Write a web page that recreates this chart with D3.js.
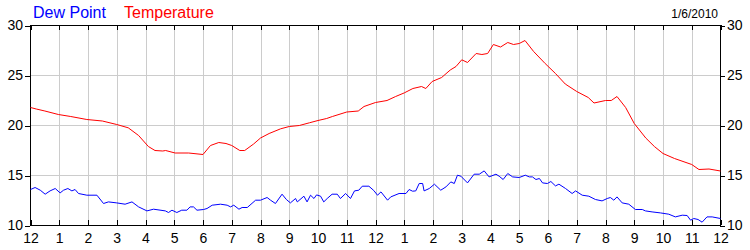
<!DOCTYPE html>
<html><head><meta charset="utf-8">
<script src="https://cdn.jsdelivr.net/npm/d3@7"></script>
<style>
html,body{margin:0;padding:0;background:#fff;}
svg{display:block;}
text{font-family:Arial,"Liberation Sans",sans-serif;}
</style></head>
<body>
<svg id="chart" width="750" height="250"></svg>
<script>
// ---- data (hours since midnight, degrees) ----
const tempHours = [0,0.2,0.5,0.97,1.4,1.96,2.5,3.0,3.4,3.76,4.1,4.33,4.6,4.7,5.03,5.5,6.0,6.26,6.55,6.8,7.0,7.28,7.45,7.76,8.0,8.3,8.7,9.0,9.35,9.7,10.0,10.3,10.5,11.0,11.4,11.6,12.0,12.4,12.7,13.0,13.3,13.6,13.75,13.97,14.3,14.6,14.8,15.0,15.2,15.5,15.7,15.9,16.1,16.35,16.6,16.8,17.0,17.2,17.5,17.9,18.26,18.6,19.0,19.4,19.6,20.0,20.2,20.4,20.7,21.0,21.4,21.7,22.0,22.4,23.0,23.25,23.6,24];
const tempValues = [21.8,21.65,21.45,21.1,20.9,20.6,20.45,20.1,19.77,19.0,17.9,17.5,17.45,17.5,17.25,17.25,17.1,18.0,18.3,18.2,18.0,17.5,17.5,18.15,18.75,19.2,19.67,19.9,20.0,20.27,20.5,20.7,20.9,21.35,21.45,21.9,22.3,22.5,22.9,23.26,23.7,23.9,23.7,24.4,24.8,25.55,25.9,26.57,26.3,27.2,27.1,27.2,28.1,27.85,28.3,28.1,28.2,28.5,27.4,26.2,25.2,24.15,23.4,22.8,22.25,22.5,22.5,22.9,21.8,20.2,18.75,17.9,17.2,16.7,16.1,15.6,15.65,15.45];

const dewHours = [0,0.16,0.34,0.51,0.68,0.86,1.03,1.15,1.3,1.44,1.55,1.67,1.96,2.31,2.54,2.71,3.0,3.29,3.53,3.76,4.05,4.28,4.69,4.8,4.92,5.09,5.26,5.44,5.55,5.67,5.79,6.02,6.14,6.32,6.61,6.84,6.96,7.07,7.25,7.36,7.54,7.83,8.0,8.23,8.35,8.52,8.75,8.9,9.04,9.22,9.28,9.51,9.62,9.74,9.86,9.95,10.09,10.2,10.32,10.49,10.67,10.78,10.96,11.13,11.27,11.42,11.54,11.77,11.94,12.07,12.19,12.42,12.53,12.82,13.06,13.17,13.29,13.4,13.52,13.64,13.69,13.87,14.05,14.27,14.45,14.62,14.74,14.85,14.97,15.2,15.43,15.61,15.78,15.95,16.19,16.3,16.44,16.6,16.77,17.0,17.21,17.35,17.46,17.58,17.7,17.81,17.98,18.1,18.26,18.38,18.61,18.84,18.96,19.19,19.42,19.65,19.88,20.06,20.17,20.29,20.4,20.58,20.81,21.04,21.28,21.39,21.62,21.91,22.2,22.43,22.67,22.84,22.96,23.07,23.22,23.36,23.53,23.71,24.0];
const dewValues = [13.6,13.8,13.53,13.13,13.46,13.7,13.26,13.53,13.7,13.46,13.6,13.2,13.03,13.03,12.2,12.36,12.26,12.13,12.36,11.86,11.46,11.63,11.46,11.3,11.53,11.3,11.53,11.53,11.86,11.86,11.53,11.6,11.7,12.03,12.13,12.03,11.86,12.03,11.63,11.8,11.8,12.53,12.53,12.8,12.53,12.2,13.13,12.6,12.26,12.7,12.36,12.93,12.36,13.03,12.7,13.06,12.93,12.36,12.7,13.13,13.13,12.7,13.2,12.7,13.46,13.53,13.93,13.93,13.5,13.03,13.36,12.53,12.86,13.2,13.2,13.6,13.43,13.46,14.2,14.2,13.46,13.7,14.13,13.53,13.86,14.36,14.2,15.03,14.93,14.26,15.13,15.13,15.46,14.86,15.13,14.93,14.6,15.2,14.86,14.8,15.03,14.86,14.86,14.6,14.7,14.26,14.2,14.4,13.96,14.13,13.7,13.2,13.46,13.03,12.93,12.6,12.46,12.7,12.8,12.53,12.86,12.26,12.13,11.6,11.6,11.46,11.36,11.26,11.13,10.86,11.03,11.0,10.53,10.7,10.6,10.33,10.86,10.86,10.7];

const hourTicks = d3.range(0,25);
const hourLabels = ["12","1","2","3","4","5","6","7","8","9","10","11","12","1","2","3","4","5","6","7","8","9","10","11","12"];
const yTicks = [10,15,20,25,30];
const legendLabels = ["Dew Point","Temperature"];
const dateLabel = "1/6/2010";

// ---- layout ----
const L = 30, R = 720, T = 25, B = 225;
const svg = d3.select("#chart");
const x = d3.scaleLinear().domain([0,24]).range([L+0.5, R+0.5]);
const y = d3.scaleLinear().domain([10,30]).range([B+0.5, T+0.5]);

// grid
const grid = svg.append("g").attr("stroke","#cccccc").attr("stroke-width",1).attr("shape-rendering","crispEdges");
grid.selectAll("line.v").data(hourTicks.slice(1,-1)).enter().append("line")
  .attr("x1",d=>Math.round(x(d))+0.5).attr("x2",d=>Math.round(x(d))+0.5)
  .attr("y1",T).attr("y2",B);
grid.selectAll("line.h").data([15,20,25]).enter().append("line")
  .attr("x1",L).attr("x2",R).attr("y1",d=>y(d)).attr("y2",d=>y(d));

// axes
function styleAxis(g){
  g.select(".domain").remove();
  g.selectAll("line").attr("stroke","#000").attr("shape-rendering","crispEdges");
  g.selectAll("text").attr("font-size","14px").attr("fill","#000").attr("font-family","Arial, 'Liberation Sans', sans-serif");
}
svg.append("g").attr("transform",`translate(${L},0)`)
  .call(d3.axisLeft(y).tickValues(yTicks).tickSize(5).tickPadding(2)).call(styleAxis);
svg.append("g").attr("transform",`translate(${R},0)`)
  .call(d3.axisRight(y).tickValues(yTicks).tickSize(5).tickPadding(2)).call(styleAxis);
const xr = d3.scaleLinear().domain([0,24]).range([L, R]);
svg.append("g").attr("transform",`translate(0,${B})`)
  .call(d3.axisBottom(x).tickValues(hourTicks).tickSize(-5).tickPadding(8).tickFormat((d,i)=>hourLabels[i])).call(styleAxis);
svg.append("g").attr("transform",`translate(0,${T})`)
  .call(d3.axisTop(x).tickValues(hourTicks).tickSize(-5).tickFormat("")).call(styleAxis);

// frame
svg.append("rect").attr("x",L+0.5).attr("y",T+0.5).attr("width",R-L).attr("height",B-T)
  .attr("fill","none").attr("stroke","#000").attr("stroke-width",1);

// lines
const line = d3.line().x(d=>x(d[0])).y(d=>y(d[1]));
const clip = svg.append("clipPath").attr("id","clip").append("rect").attr("x",L).attr("y",T).attr("width",R-L+1).attr("height",B-T+1);
svg.append("path").datum(dewHours.map((h,i)=>[h,dewValues[i]]))
  .attr("d",line).attr("fill","none").attr("stroke","#0000ff").attr("stroke-width",1).attr("clip-path","url(#clip)");
svg.append("path").datum(tempHours.map((h,i)=>[h,tempValues[i]]))
  .attr("d",line).attr("fill","none").attr("stroke","#ff0000").attr("stroke-width",1).attr("clip-path","url(#clip)");

// legend
svg.append("text").attr("x",33).attr("y",18).attr("font-size","16px").attr("fill","#0000ff").text(legendLabels[0]);
svg.append("text").attr("x",124).attr("y",18).attr("font-size","16px").attr("fill","#ff0000").text(legendLabels[1]);
svg.append("text").attr("x",718).attr("y",18).attr("font-size","12px").attr("text-anchor","end").attr("fill","#000").text(dateLabel);
</script>
</body></html>
